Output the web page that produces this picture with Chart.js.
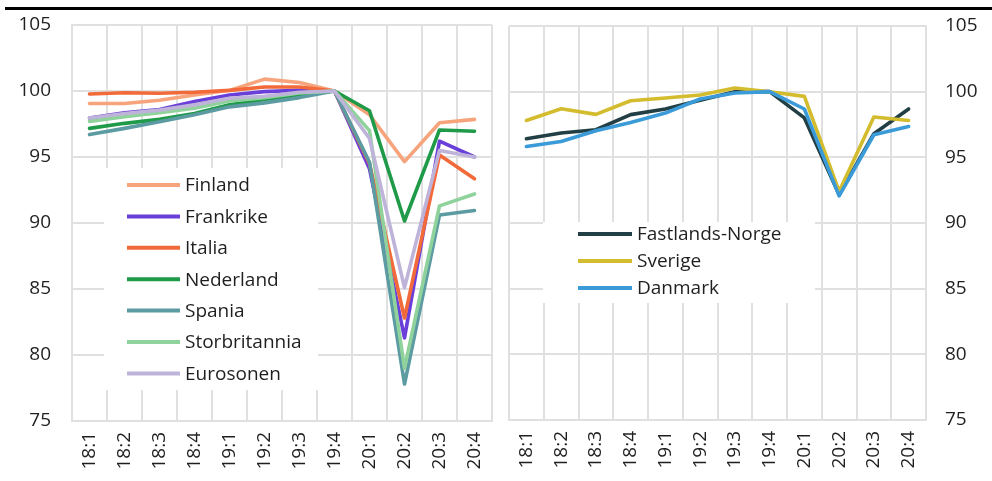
<!DOCTYPE html>
<html><head><meta charset="utf-8">
<script src="https://cdn.jsdelivr.net/npm/chart.js@4.4.0/dist/chart.umd.min.js"></script>
<style>
html,body{margin:0;padding:0;background:#fff;width:992px;height:481px;overflow:hidden;}
#topline{position:absolute;left:5px;top:7px;width:987px;height:3px;background:#000;}
#w1{position:absolute;left:0;top:0;width:496px;height:481px;}
#w2{position:absolute;left:500px;top:0;width:492px;height:481px;}
</style></head><body>
<div id="topline"></div>
<div id="w1"><canvas id="c1" width="496" height="481"></canvas></div>
<div id="w2"><canvas id="c2" width="492" height="481"></canvas></div>
<script>
const categories = ['18:1','18:2','18:3','18:4','19:1','19:2','19:3','19:4','20:1','20:2','20:3','20:4'];
const yTicks = [75, 80, 85, 90, 95, 100, 105];

const finland       = [99.05, 99.05, 99.3, 99.7, 100.05, 100.9, 100.65, 100, 98.2, 94.65, 97.6, 97.85];
const frankrike     = [97.95, 98.35, 98.6, 99.2, 99.7, 99.95, 100.05, 100, 94.1, 81.3, 96.2, 95.0];
const italia        = [99.77, 99.87, 99.83, 99.9, 100.05, 100.3, 100.3, 100, 94.5, 82.8, 95.15, 93.35];
const nederland     = [97.17, 97.55, 97.85, 98.3, 98.95, 99.35, 99.7, 100, 98.5, 90.15, 97.05, 96.95];
const spania        = [96.7, 97.17, 97.67, 98.2, 98.8, 99.1, 99.5, 100, 94.6, 77.8, 90.6, 90.95];
const storbritannia = [97.7, 98.05, 98.35, 98.7, 99.25, 99.5, 99.85, 100, 97.0, 79.0, 91.3, 92.2];
const eurosonen     = [97.95, 98.3, 98.55, 98.95, 99.45, 99.6, 99.9, 100, 96.4, 85.1, 95.5, 95.0];

const norge   = [96.42, 96.85, 97.1, 98.25, 98.68, 99.34, 100.0, 100.0, 98.0, 92.15, 96.8, 98.68];
const sverige = [97.81, 98.7, 98.27, 99.31, 99.52, 99.75, 100.28, 100.0, 99.64, 92.4, 98.07, 97.81];
const danmark = [95.83, 96.21, 97.03, 97.66, 98.37, 99.44, 99.9, 100.0, 98.68, 92.07, 96.72, 97.35];

const leftSeries = [
  ['Finland', finland, '#F7A47C'],
  ['Frankrike', frankrike, '#6A3FD9'],
  ['Italia', italia, '#F2693A'],
  ['Nederland', nederland, '#1F9A48'],
  ['Spania', spania, '#5B9BA1'],
  ['Storbritannia', storbritannia, '#90D29C'],
  ['Eurosonen', eurosonen, '#BEB3D8']
];
const rightSeries = [
  ['Fastlands-Norge', norge, '#213F44'],
  ['Sverige', sverige, '#D4BC2F'],
  ['Danmark', danmark, '#3B9BD8']
];

const FONT = '"Open Sans", "Noto Sans", sans-serif';
const TXT = '#1f1f1f';
const GRID = '#e0e0e0';

const legendPlugin = {
  id: 'boxLegend',
  afterDatasetsDraw(chart, args, o) {
    const ctx = chart.ctx;
    ctx.save();
    ctx.fillStyle = '#fff';
    ctx.fillRect(o.bx, o.by, o.bw, o.bh);
    ctx.font = '19px ' + FONT;
    ctx.textBaseline = 'middle';
    ctx.textAlign = 'left';
    chart.data.datasets.forEach((ds, i) => {
      const y = o.y0 + i * o.dy;
      ctx.strokeStyle = ds.borderColor;
      ctx.lineWidth = 4;
      ctx.lineCap = 'butt';
      ctx.beginPath();
      ctx.moveTo(o.x0, y);
      ctx.lineTo(o.x0 + o.len, y);
      ctx.stroke();
      ctx.fillStyle = TXT;
      ctx.fillText(ds.label, o.x0 + o.len + 5, y + 1);
    });
    ctx.restore();
  }
};

function makeDatasets(series) {
  return series.map((s, i) => ({
    label: s[0], data: s[1], borderColor: s[2], backgroundColor: s[2],
    borderWidth: 3.6, pointRadius: 0, pointHoverRadius: 0, tension: 0,
    borderJoinStyle: 'round', borderCapStyle: 'round', fill: false, order: -i
  }));
}

function makeChart(id, series, side, layout, legendOpts, yWidth, xHeight, yPad) {
  return new Chart(document.getElementById(id), {
    type: 'line',
    data: { labels: categories, datasets: makeDatasets(series) },
    options: {
      responsive: false, animation: false,
      layout: { padding: layout },
      plugins: { legend: { display: false }, tooltip: { enabled: false }, boxLegend: legendOpts },
      scales: {
        x: {
          offset: true,
          grid: { offset: true, color: GRID, lineWidth: 2, drawTicks: false },
          border: { color: GRID, width: 2 },
          ticks: { autoSkip: false, minRotation: 90, maxRotation: 90, padding: 11,
                   color: TXT, font: { family: FONT, size: 19 } },
          afterFit(s) { s.height = xHeight; s.paddingLeft = 0; s.paddingRight = 0; }
        },
        y: {
          position: side, min: 75, max: 105,
          afterBuildTicks(s) { s.ticks = yTicks.map(v => ({ value: v })); },
          grid: { color: GRID, lineWidth: 2, drawTicks: false },
          border: { color: GRID, width: 2 },
          ticks: { padding: yPad, color: TXT, font: { family: FONT, size: 19 } },
          afterFit(s) { s.width = yWidth; s.paddingTop = 0; s.paddingBottom = 0; }
        }
      }
    },
    plugins: [legendPlugin]
  });
}

function draw() {
  makeChart('c1', leftSeries, 'left', { top: 25, right: 4, left: 0, bottom: 0 },
    { bx: 104, by: 168, bw: 214, bh: 222, x0: 127, len: 53, y0: 185, dy: 31.4 }, 72, 60, 21);
  makeChart('c2', rightSeries, 'right', { top: 26, right: 0, left: 9, bottom: 0 },
    { bx: 43, by: 222, bw: 272, bh: 81, x0: 78, len: 54, y0: 234, dy: 27 }, 66, 61, 19);
}
if (document.fonts && document.fonts.load) {
  document.fonts.load('19px "Open Sans"').then(draw, draw);
} else { draw(); }
</script>
</body></html>
